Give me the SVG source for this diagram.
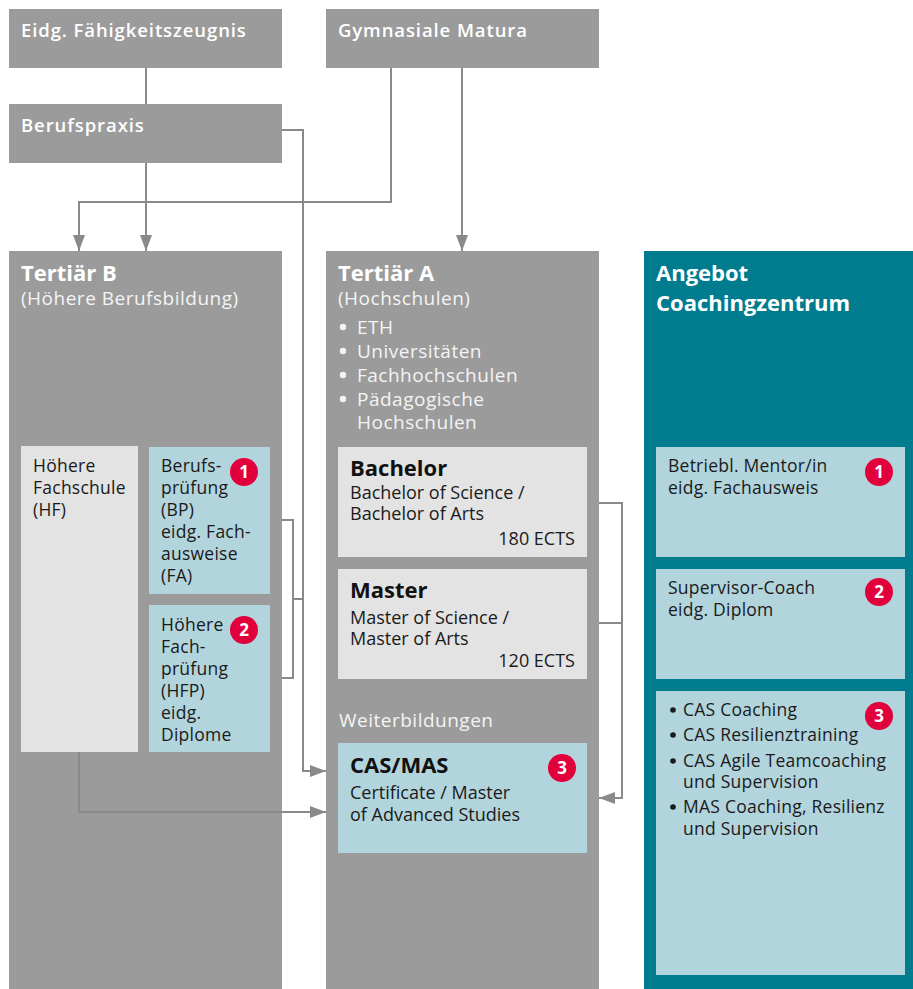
<svg xmlns="http://www.w3.org/2000/svg" width="913" height="989" viewBox="0 0 913 989">
<defs>
<style>
text{font-family:"Open Sans","Noto Sans",sans-serif;}
.col{fill:#9b9b9b;}
.lg{fill:#e3e3e3;}
.lb{fill:#b2d4dc;}
.teal{fill:#007c8e;}
.hdr{fill:#ffffff;font-weight:600;font-size:18.5px;letter-spacing:0.9px;}
.th{fill:#ffffff;font-weight:bold;font-size:22px;}
.ts{fill:#f4f4f4;font-size:19px;letter-spacing:0.5px;}
.bt{fill:#1a1a1a;font-size:17.5px;letter-spacing:0.25px;}
.big{fill:#111111;font-weight:bold;font-size:22px;}
.body{fill:#1a1a1a;font-size:18px;}
.badge circle{fill:#e2003c;}
.badge text{fill:#ffffff;font-weight:bold;font-size:17px;text-anchor:middle;letter-spacing:0;}
.ln{fill:none;stroke:#8a8a8a;stroke-width:2;}
</style>
<marker id="ah" viewBox="0 0 16 12" refX="16" refY="6" markerWidth="16" markerHeight="12" markerUnits="userSpaceOnUse" orient="auto">
<path d="M0,0 L16,6 L0,12 Z" fill="#8a8a8a"/>
</marker>
</defs>

<g id="efz">
<rect class="col" x="9" y="9" width="273" height="59"/>
<text class="hdr" x="21" y="37">Eidg. Fähigkeitszeugnis</text>
</g>
<g id="matura">
<rect class="col" x="326" y="9" width="273" height="59"/>
<text class="hdr" x="338" y="37">Gymnasiale Matura</text>
</g>
<g id="berufspraxis">
<rect class="col" x="9" y="104" width="273" height="59"/>
<text class="hdr" x="21" y="132">Berufspraxis</text>
</g>

<g id="tertiaerB">
<rect class="col" x="9" y="251" width="273" height="738"/>
<text class="th" x="21" y="281">Tertiär B</text>
<text class="ts" x="21" y="305">(Höhere Berufsbildung)</text>
</g>
<g id="hf">
<rect class="lg" x="21" y="446" width="117" height="306"/>
<text class="bt" x="33" y="472">Höhere</text>
<text class="bt" x="33" y="494">Fachschule</text>
<text class="bt" x="33" y="516">(HF)</text>
</g>
<g id="bp">
<rect class="lb" x="149" y="447" width="121" height="147"/>
<text class="bt" x="161" y="472">Berufs-</text>
<text class="bt" x="161" y="494">prüfung</text>
<text class="bt" x="161" y="516">(BP)</text>
<text class="bt" x="161" y="538">eidg. Fach-</text>
<text class="bt" x="161" y="560">ausweise</text>
<text class="bt" x="161" y="582">(FA)</text>
<g class="badge"><circle cx="244" cy="472" r="14"/><text x="244" y="478">1</text></g>
</g>
<g id="hfp">
<rect class="lb" x="149" y="605" width="121" height="147"/>
<text class="bt" x="161" y="631">Höhere</text>
<text class="bt" x="161" y="653">Fach-</text>
<text class="bt" x="161" y="675">prüfung</text>
<text class="bt" x="161" y="697">(HFP)</text>
<text class="bt" x="161" y="719">eidg.</text>
<text class="bt" x="161" y="741">Diplome</text>
<g class="badge"><circle cx="244" cy="630" r="14"/><text x="244" y="636">2</text></g>
</g>

<g id="tertiaerA">
<rect class="col" x="326" y="251" width="273" height="738"/>
<text class="th" x="338" y="281">Tertiär A</text>
<text class="ts" x="338" y="305">(Hochschulen)</text>
<g class="ts">
<circle cx="343" cy="327" r="3.2" fill="#f4f4f4"/><text x="357" y="334">ETH</text>
<circle cx="343" cy="351" r="3.2" fill="#f4f4f4"/><text x="357" y="358">Universitäten</text>
<circle cx="343" cy="375" r="3.2" fill="#f4f4f4"/><text x="357" y="382">Fachhochschulen</text>
<circle cx="343" cy="399" r="3.2" fill="#f4f4f4"/><text x="357" y="406">Pädagogische</text>
<text x="357" y="429">Hochschulen</text>
</g>
<text class="ts" x="339" y="727">Weiterbildungen</text>
</g>
<g id="bachelor">
<rect class="lg" x="338" y="447" width="249" height="110"/>
<text class="big" x="350" y="476">Bachelor</text>
<text class="body" x="350" y="499">Bachelor of Science /</text>
<text class="body" x="350" y="520">Bachelor of Arts</text>
<text class="body" x="575" y="545" text-anchor="end">180 ECTS</text>
</g>
<g id="master">
<rect class="lg" x="338" y="569" width="249" height="110"/>
<text class="big" x="350" y="598">Master</text>
<text class="body" x="350" y="624">Master of Science /</text>
<text class="body" x="350" y="645">Master of Arts</text>
<text class="body" x="575" y="667" text-anchor="end">120 ECTS</text>
</g>
<g id="casmas">
<rect class="lb" x="338" y="743" width="249" height="110"/>
<text class="big" x="350" y="773">CAS/MAS</text>
<text class="body" x="350" y="799">Certificate / Master</text>
<text class="body" x="350" y="821">of Advanced Studies</text>
<g class="badge"><circle cx="562" cy="768" r="14"/><text x="562" y="774">3</text></g>
</g>

<g id="angebot">
<rect class="teal" x="644" y="251" width="269" height="738"/>
<text class="th" x="656" y="281">Angebot</text>
<text class="th" x="656" y="311">Coachingzentrum</text>
</g>
<g id="mentor">
<rect class="lb" x="656" y="447" width="249" height="110"/>
<text class="bt" x="668" y="472">Betriebl. Mentor/in</text>
<text class="bt" x="668" y="494">eidg. Fachausweis</text>
<g class="badge"><circle cx="879" cy="472" r="14"/><text x="879" y="478">1</text></g>
</g>
<g id="supervisor">
<rect class="lb" x="656" y="569" width="249" height="110"/>
<text class="bt" x="668" y="594">Supervisor-Coach</text>
<text class="bt" x="668" y="616">eidg. Diplom</text>
<g class="badge"><circle cx="879" cy="592" r="14"/><text x="879" y="598">2</text></g>
</g>
<g id="cas">
<rect class="lb" x="656" y="691" width="249" height="284"/>
<g class="bt">
<circle cx="673" cy="710" r="2.8" fill="#1a1a1a"/><text x="683" y="716">CAS Coaching</text>
<circle cx="673" cy="735" r="2.8" fill="#1a1a1a"/><text x="683" y="741">CAS Resilienztraining</text>
<circle cx="673" cy="761" r="2.8" fill="#1a1a1a"/><text x="683" y="767">CAS Agile Teamcoaching</text>
<text x="683" y="788">und Supervision</text>
<circle cx="673" cy="807" r="2.8" fill="#1a1a1a"/><text x="683" y="813">MAS Coaching, Resilienz</text>
<text x="683" y="835">und Supervision</text>
</g>
<g class="badge"><circle cx="879" cy="716" r="14"/><text x="879" y="722">3</text></g>
</g>

<g id="connectors">
<path class="ln" d="M146,68 V104"/>
<path class="ln" d="M146,163 V251" marker-end="url(#ah)"/>
<path class="ln" d="M391,68 V202 H79 V251" marker-end="url(#ah)"/>
<path class="ln" d="M462,68 V251" marker-end="url(#ah)"/>
<path class="ln" d="M282,130 H303 V771 H326" marker-end="url(#ah)"/>
<path class="ln" d="M282,520 H293 V678 H282 M293,599 H303"/>
<path class="ln" d="M79,752 V812 H326" marker-end="url(#ah)"/>
<path class="ln" d="M599,503 H622 V623 H599 M622,623 V798 H599" marker-end="url(#ah)"/>
</g>
</svg>
